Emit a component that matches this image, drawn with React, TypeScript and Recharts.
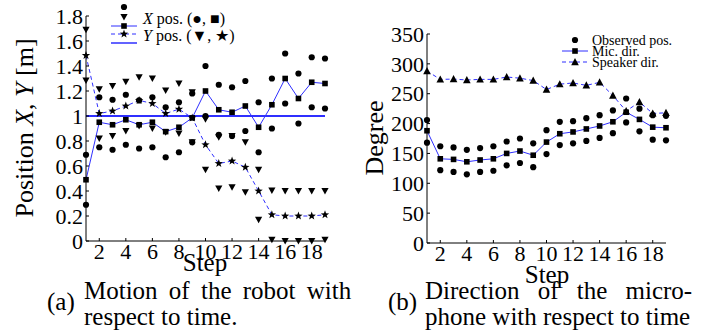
import { ComposedChart, Line, XAxis, YAxis, ReferenceLine } from "recharts";

const steps = [1, 2, 3, 4, 5, 6, 7, 8, 9, 10, 11, 12, 13, 14, 15, 16, 17, 18, 19];
const stepTicks = [2, 4, 6, 8, 10, 12, 14, 16, 18];

// (a) robot position [m]
const xMean = [0.49, 0.95, 0.93, 0.97, 0.93, 0.95, 0.875, 0.91, 0.985, 1.2, 1.05, 1.03, 1.08, 0.91, 1.09, 1.3, 1.14, 1.27, 1.26];
const xObsHi = [0.69, 1.15, 1.13, 1.17, 1.125, 1.15, 1.07, 1.11, 1.18, 1.4, 1.25, 1.23, 1.28, 1.11, 1.3, 1.5, 1.34, 1.47, 1.46];
const xObsLo = [0.29, 0.75, 0.73, 0.77, 0.74, 0.75, 0.67, 0.71, 0.79, 1.0, 0.85, 0.84, 0.88, 0.71, 0.9, 1.1, 0.94, 1.07, 1.06];
const yMean = [1.485, 1.02, 1.04, 1.08, 1.125, 1.1, 1.02, 1.055, 0.985, 0.77, 0.62, 0.64, 0.59, 0.4, 0.21, 0.2, 0.2, 0.2, 0.21];
const yObsHi = [1.69, 1.215, 1.24, 1.275, 1.31, 1.3, 1.205, 1.26, 1.19, 0.975, 0.83, 0.84, 0.79, 0.57, 0.405, 0.4, 0.4, 0.4, 0.4];
const yObsLo = [1.285, 0.82, 0.84, 0.88, 0.92, 0.9, 0.87, 0.86, 0.79, 0.57, 0.42, 0.43, 0.39, 0.17, 0.01, 0, 0, 0, 0.01];
const posTicks = [0, 0.2, 0.4, 0.6, 0.8, 1, 1.2, 1.4, 1.6, 1.8];
const targetPos = 1;

// (b) direction [degree]
const micDir = [188, 141, 140, 136, 139, 141, 150, 154, 147, 169, 183, 186, 191, 196, 203, 219, 207, 194, 193];
const speakerDir = [288, 274, 274.5, 273, 274, 274, 278, 276, 272, 257, 266, 268, 264, 269, 247, 221, 236, 217, 218];
const dirObsHi = [206, 162, 160, 156, 159, 162, 170, 175, 167, 189, 203, 204, 209, 214, 222, 242, 225, 214, 213];
const dirObsLo = [168, 122, 119, 115, 119, 121, 130, 134, 127, 149, 164, 167, 171, 176, 184, 202, 187, 173, 172];
const degTicks = [0, 50, 100, 150, 200, 250, 300, 350];

const posRows = steps.map((s, i) => ({
  step: s,
  xMean: xMean[i],
  xHi: xObsHi[i],
  xLo: xObsLo[i],
  yMean: yMean[i],
  yHi: yObsHi[i],
  yLo: yObsLo[i],
}));

const dirRows = steps.map((s, i) => ({
  step: s,
  mic: micDir[i],
  speaker: speakerDir[i],
  hi: dirObsHi[i],
  lo: dirObsLo[i],
}));

const FONT = "Liberation Serif";
const BLUE = "#2f2fff";

const starPoints = (cx: number, cy: number, ro: number, ri: number) => {
  const pts: string[] = [];
  for (let k = 0; k < 10; k++) {
    const r = k % 2 === 0 ? ro : ri;
    const a = -Math.PI / 2 + (k * Math.PI) / 5;
    pts.push(`${cx + r * Math.cos(a)},${cy + r * Math.sin(a)}`);
  }
  return pts.join(" ");
};

type Mk = "circle" | "square" | "tdown" | "tup" | "star";

function marker(kind: Mk, cx: number, cy: number, key?: any) {
  switch (kind) {
    case "circle":
      return <circle key={key} cx={cx} cy={cy} r={3.1} fill="#000" />;
    case "square":
      return <rect key={key} x={cx - 2.8} y={cy - 2.8} width={5.6} height={5.6} fill="#000" />;
    case "tdown":
      return <polygon key={key} points={`${cx - 3.6},${cy - 3} ${cx + 3.6},${cy - 3} ${cx},${cy + 3.6}`} fill="#000" />;
    case "tup":
      return <polygon key={key} points={`${cx - 3.8},${cy + 3.2} ${cx + 3.8},${cy + 3.2} ${cx},${cy - 4}`} fill="#000" />;
    default:
      return <polygon key={key} points={starPoints(cx, cy, 4.4, 1.8)} fill="#000" />;
  }
}

const dot = (kind: Mk) => (p: any) => {
  if (p.cx == null || p.cy == null || p.value == null) return <g key={p.index} />;
  return marker(kind, p.cx, p.cy, p.index);
};

const XTick = (p: any) => (
  <text x={p.x} y={p.y} dy="0.71em" textAnchor="middle" fontFamily={FONT} fontSize={22} fill="#000">
    {p.payload.value}
  </text>
);

const YTick = (p: any) => (
  <text x={p.x} y={p.y} dy="0.35em" textAnchor="end" fontFamily={FONT} fontSize={22} fill="#000">
    {p.payload.value}
  </text>
);

const axisLine = { stroke: "#000", strokeWidth: 1 };

function PositionChart() {
  return (
    <div style={{ position: "absolute", left: 0, top: 0 }}>
      <ComposedChart width={345} height={280} data={posRows} margin={{ top: 16, right: 20, bottom: 9, left: 36 }}>
        <XAxis
          dataKey="step"
          type="number"
          domain={[1, 19]}
          ticks={stepTicks}
          height={30}
          tick={XTick}
          tickSize={-3}
          tickMargin={5}
          tickLine={{ stroke: "#000" }}
          axisLine={axisLine}
          interval={0}
        />
        <YAxis
          type="number"
          domain={[0, 1.8]}
          ticks={posTicks}
          width={50}
          tick={YTick}
          tickSize={-3}
          tickMargin={6}
          tickLine={{ stroke: "#000" }}
          axisLine={axisLine}
          interval={0}
        />
        <ReferenceLine y={targetPos} stroke={BLUE} strokeWidth={1.8} />
        <Line dataKey="xHi" stroke="none" dot={dot("circle")} activeDot={false} isAnimationActive={false} />
        <Line dataKey="xLo" stroke="none" dot={dot("circle")} activeDot={false} isAnimationActive={false} />
        <Line dataKey="yHi" stroke="none" dot={dot("tdown")} activeDot={false} isAnimationActive={false} />
        <Line dataKey="yLo" stroke="none" dot={dot("tdown")} activeDot={false} isAnimationActive={false} />
        <Line
          dataKey="yMean"
          type="linear"
          stroke={BLUE}
          strokeWidth={1}
          strokeDasharray="4 3"
          dot={dot("star")}
          activeDot={false}
          isAnimationActive={false}
        />
        <Line
          dataKey="xMean"
          type="linear"
          stroke={BLUE}
          strokeWidth={1}
          dot={dot("square")}
          activeDot={false}
          isAnimationActive={false}
        />
      </ComposedChart>
    </div>
  );
}

function DirectionChart() {
  return (
    <div style={{ position: "absolute", left: 360, top: 0 }}>
      <ComposedChart width={330} height={280} data={dirRows} margin={{ top: 34, right: 24, bottom: 7, left: 17 }}>
        <XAxis
          dataKey="step"
          type="number"
          domain={[1, 19]}
          ticks={stepTicks}
          height={30}
          tick={XTick}
          tickSize={-3}
          tickMargin={5}
          tickLine={{ stroke: "#000" }}
          axisLine={axisLine}
          interval={0}
        />
        <YAxis
          type="number"
          domain={[0, 350]}
          ticks={degTicks}
          width={50}
          tick={YTick}
          tickSize={-3}
          tickMargin={6}
          tickLine={{ stroke: "#000" }}
          axisLine={axisLine}
          interval={0}
        />
        <Line dataKey="hi" stroke="none" dot={dot("circle")} activeDot={false} isAnimationActive={false} />
        <Line dataKey="lo" stroke="none" dot={dot("circle")} activeDot={false} isAnimationActive={false} />
        <Line
          dataKey="speaker"
          type="linear"
          stroke={BLUE}
          strokeWidth={1}
          strokeDasharray="4 3"
          dot={dot("tup")}
          activeDot={false}
          isAnimationActive={false}
        />
        <Line
          dataKey="mic"
          type="linear"
          stroke={BLUE}
          strokeWidth={1}
          dot={dot("square")}
          activeDot={false}
          isAnimationActive={false}
        />
      </ComposedChart>
    </div>
  );
}

function Texts() {
  const t = { fontFamily: FONT, fill: "#000" };
  return (
    <svg width={712} height={332} style={{ position: "absolute", left: 0, top: 0, pointerEvents: "none" }}>
      {/* axis titles */}
      <text {...t} fontSize={26} textAnchor="middle" dominantBaseline="central" transform="translate(24,128) rotate(-90)">
        Position <tspan fontStyle="italic">X</tspan>, <tspan fontStyle="italic">Y</tspan> [m]
      </text>
      <text {...t} fontSize={26} textAnchor="middle" dominantBaseline="central" transform="translate(374,138) rotate(-90)">
        Degree
      </text>
      <text {...t} fontSize={25} textAnchor="middle" x={205} y={271}>Step</text>
      <text {...t} fontSize={25} textAnchor="middle" x={547} y={283}>Step</text>

      {/* legend (a) */}
      {marker("circle", 124, 7)}
      {marker("tdown", 124, 17)}
      <text {...t} fontSize={16} x={143} y={18} dominantBaseline="central">
        <tspan fontStyle="italic">X</tspan> pos. (●, ■)
      </text>
      <line x1={111} x2={137} y1={26} y2={26} stroke={BLUE} strokeWidth={1} />
      {marker("square", 124, 26)}
      <line x1={111} x2={137} y1={34} y2={34} stroke={BLUE} strokeWidth={1} strokeDasharray="4 3" />
      {marker("star", 124, 34)}
      <text {...t} fontSize={16} x={143} y={35} dominantBaseline="central">
        <tspan fontStyle="italic">Y</tspan> pos. (▼, ★)
      </text>
      <line x1={111} x2={137} y1={43} y2={43} stroke={BLUE} strokeWidth={1.5} />

      {/* legend (b) */}
      {marker("circle", 575, 40)}
      <text {...t} fontSize={14} x={592} y={40} dominantBaseline="central">Observed pos.</text>
      <line x1={562} x2={588} y1={51} y2={51} stroke={BLUE} strokeWidth={1} />
      {marker("square", 575, 51)}
      <text {...t} fontSize={14} x={592} y={51} dominantBaseline="central">Mic. dir.</text>
      <line x1={562} x2={588} y1={62} y2={62} stroke={BLUE} strokeWidth={1} strokeDasharray="4 3" />
      {marker("tup", 575, 62)}
      <text {...t} fontSize={14} x={592} y={62} dominantBaseline="central">Speaker dir.</text>

      {/* captions */}
      <text {...t} fontSize={25} x={47} y={310}>(a)</text>
      <text {...t} fontSize={25} x={84} y={299} style={{ wordSpacing: 5 }}>Motion of the robot with</text>
      <text {...t} fontSize={25} x={84} y={325}>respect to time.</text>
      <text {...t} fontSize={25} x={388} y={310}>(b)</text>
      <text {...t} fontSize={25} x={425} y={299} style={{ wordSpacing: 12 }}>Direction of the micro-</text>
      <text {...t} fontSize={25} x={425} y={325}>phone with respect to time</text>
    </svg>
  );
}

export default function App() {
  return (
    <div style={{ position: "absolute", left: 0, top: 0, width: 712, height: 332, background: "#fff", overflow: "hidden" }}>
      <PositionChart />
      <DirectionChart />
      <Texts />
    </div>
  );
}
